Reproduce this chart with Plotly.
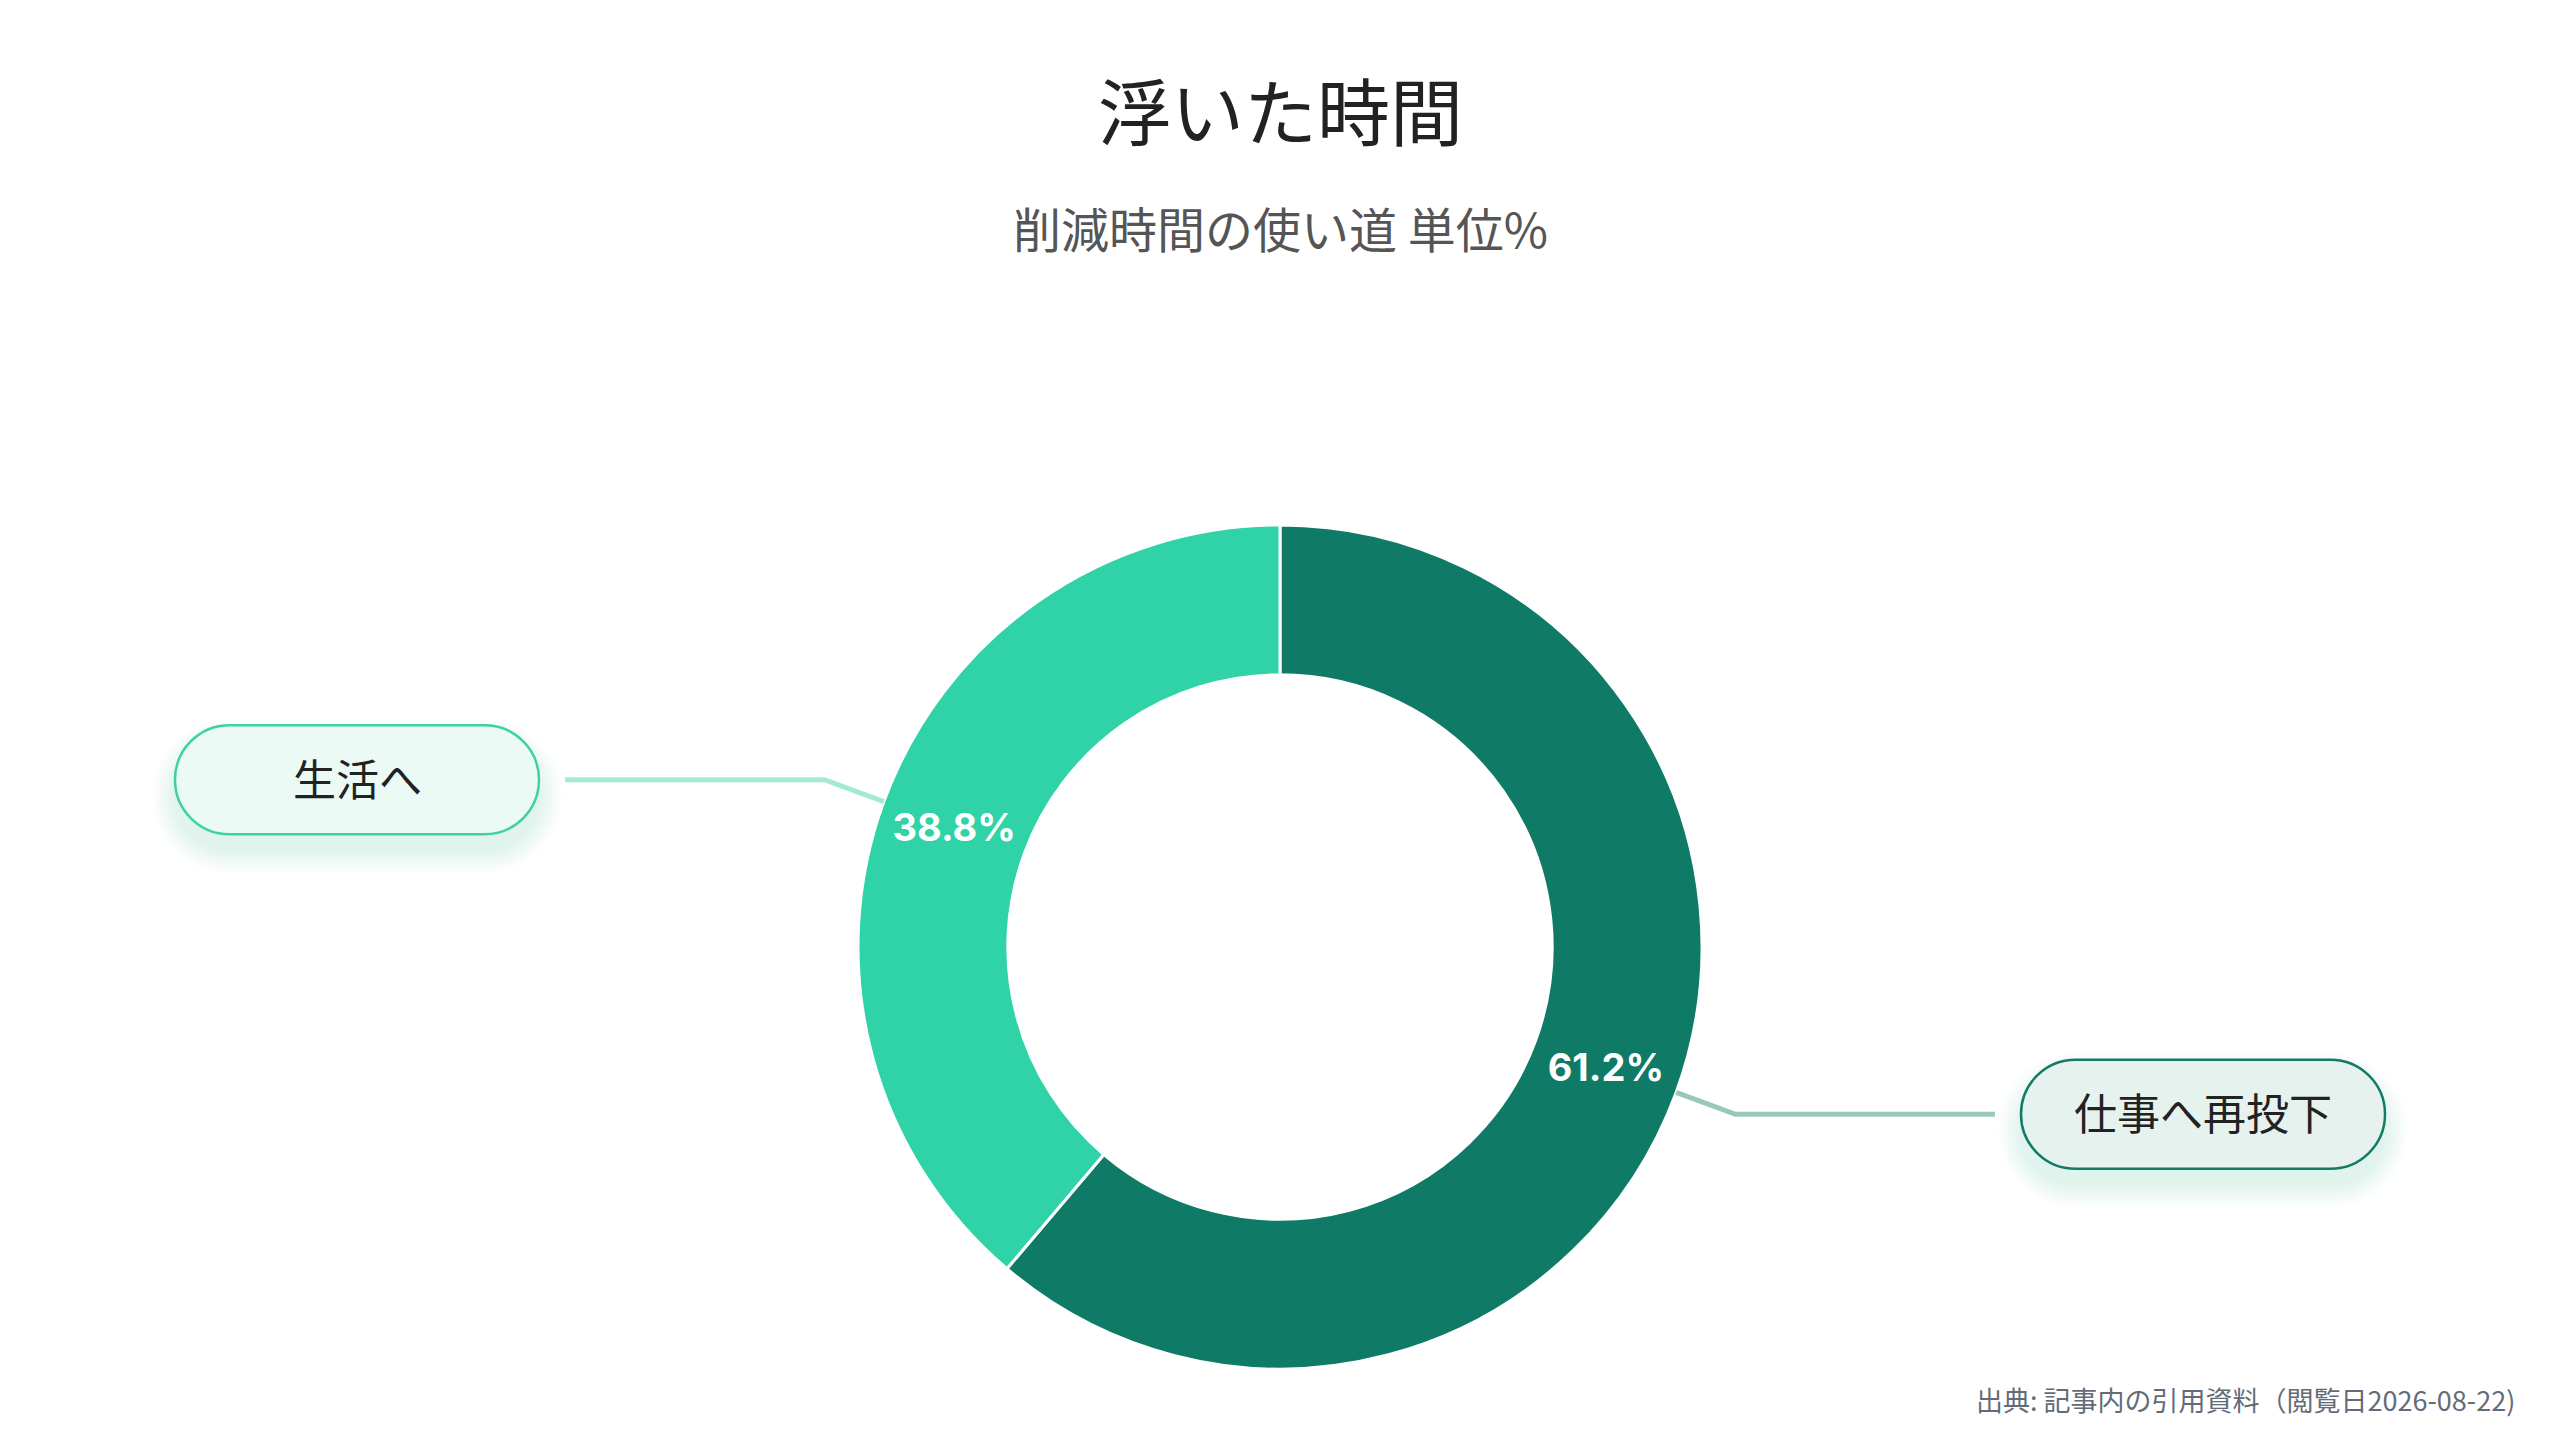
import math
import plotly.graph_objects as go

# chart data
labels = ["仕事へ再投下", "生活へ"]
values = [61.2, 38.8]
slice_colors = ["#0f7a65", "#2fd3a7"]
box_fill = ["#e5f2ee", "#ebfaf4"]
box_line = ["#137a66", "#3fd0a6"]
leader_colors = ["#97c9bb", "#a3ead5"]

title = "浮いた時間"
subtitle = "削減時間の使い道 単位%"
source = "出典: 記事内の引用資料（閲覧日2026-08-22)"

W, H = 2560, 1440
OFF = 8                  # page body margin
CX, CY = 1280 - OFF, 947 - OFF   # donut centre, px from top-left
R = 422                  # outer radius, px
HOLE = 0.645
BOX_W, BOX_H = 364, 109
BOX_DX = 923             # box centre distance from donut centre
JP = "Noto Sans CJK JP"


def px(x, y):
    return x / W, 1 - y / H


def pill_path(x0, y0, x1, y1):
    r = (y1 - y0) / 2
    k = 0.5523 * r
    pts = [
        ("M", [(x0 + r, y0)]),
        ("L", [(x1 - r, y0)]),
        ("C", [(x1 - r + k, y0), (x1, y0 + r - k), (x1, y0 + r)]),
        ("C", [(x1, y0 + r + k), (x1 - r + k, y1), (x1 - r, y1)]),
        ("L", [(x0 + r, y1)]),
        ("C", [(x0 + r - k, y1), (x0, y1 - r + k), (x0, y1 - r)]),
        ("C", [(x0, y1 - r - k), (x0 + r - k, y0), (x0 + r, y0)]),
    ]
    out = ""
    for cmd, ps in pts:
        out += cmd + " ".join("%.5f,%.5f" % px(*p) for p in ps) + " "
    return out + "Z"


fig = go.Figure()

fig.add_trace(
    go.Pie(
        labels=labels,
        values=values,
        hole=HOLE,
        sort=False,
        direction="clockwise",
        rotation=0,
        marker=dict(colors=slice_colors, line=dict(color="white", width=3)),
        texttemplate="%{value:.1f}%",
        textposition="inside",
        insidetextorientation="horizontal",
        insidetextfont=dict(family="Inter, " + JP, size=38, color="white", weight="bold"),
        hoverinfo="skip",
        showlegend=False,
        domain=dict(
            x=[(CX - R) / W, (CX + R) / W],
            y=[1 - (CY + R) / H, 1 - (CY - R) / H],
        ),
    )
)

shapes = []
annotations = []
total = sum(values)
start = 0.0
for i, v in enumerate(values):
    frac = v / total
    theta = 2 * math.pi * (start + frac / 2)
    start += frac
    sx, sy = math.sin(theta), math.cos(theta)
    side = 1 if sx > 0 else -1
    p0 = (CX + R * sx, CY - R * sy)
    p1 = (CX + 1.15 * R * sx, CY - 1.15 * R * sy)
    bx = CX + side * BOX_DX
    by = p1[1]
    p2 = (bx - side * (BOX_W / 2 + 26), by)
    path = "M%.5f,%.5f L%.5f,%.5f L%.5f,%.5f" % (*px(*p0), *px(*p1), *px(*p2))
    shapes.append(dict(type="path", xref="paper", yref="paper", path=path,
                       line=dict(color=leader_colors[i], width=5), layer="above"))

    x0, x1 = bx - BOX_W / 2, bx + BOX_W / 2
    y0, y1 = by - BOX_H / 2, by + BOX_H / 2
    # soft shadow under the pill
    for s in range(6):
        g = 2 + s * 4
        shapes.append(dict(type="path", xref="paper", yref="paper",
                           path=pill_path(x0 - g, y0 - g + 16, x1 + g, y1 + g + 16),
                           fillcolor="rgba(40,160,125,0.025)", line=dict(width=0),
                           layer="above"))
    shapes.append(dict(type="path", xref="paper", yref="paper",
                       path=pill_path(x0, y0, x1, y1), fillcolor=box_fill[i],
                       line=dict(color=box_line[i], width=2.5), layer="above"))
    annotations.append(dict(x=bx / W, y=1 - (by - 3) / H, xref="paper", yref="paper",
                            xanchor="center", yanchor="middle",
                            text=labels[i], showarrow=False,
                            font=dict(family=JP, size=43, color="#222222")))

annotations += [
    dict(x=CX / W, y=1 - (108 - OFF) / H, xref="paper", yref="paper", text=title,
         xanchor="center", yanchor="middle", showarrow=False,
         font=dict(family=JP, size=73, color="#222222")),
    dict(x=CX / W, y=1 - (227 - OFF) / H, xref="paper", yref="paper", text=subtitle,
         xanchor="center", yanchor="middle", showarrow=False,
         font=dict(family=JP, size=48, color="#555555")),
    dict(x=(2517 - OFF) / W, y=1 - (1399 - OFF) / H, xref="paper", yref="paper",
         text=source, xanchor="right", yanchor="middle", showarrow=False,
         font=dict(family=JP, size=27, color="#646b78")),
]

fig.update_layout(
    width=W,
    height=H,
    margin=dict(l=0, r=0, t=0, b=0),
    paper_bgcolor="white",
    plot_bgcolor="white",
    shapes=shapes,
    annotations=annotations,
)

fig.write_html("out.html")
